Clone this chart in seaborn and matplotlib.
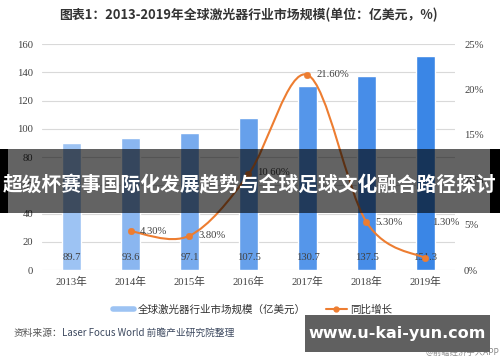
import numpy as np
import pandas as pd
import seaborn as sns
import matplotlib.pyplot as plt
from matplotlib.path import Path
from matplotlib.patches import PathPatch, Rectangle
from matplotlib.lines import Line2D

# data
years = ['2013年', '2014年', '2015年', '2016年', '2017年', '2018年', '2019年']
market = [89.7, 93.6, 97.1, 107.5, 130.7, 137.5, 151.3]
growth = [4.3, 3.8, 10.6, 21.6, 5.3, 1.3]          # 2014-2019, %
left_ticks = [0, 20, 40, 60, 80, 100, 120, 140, 160]
right_ticks = [0, 5, 10, 15, 20, 25]

bar_colors = ['#9dc3f3', '#8ab6f0', '#78abee', '#66a0eb', '#5596ea', '#478de8', '#3a86e6']
orange = '#ed7d31'
txt = '#404040'
serif = ['Liberation Serif', 'Noto Sans CJK SC']
sans = ['Noto Sans CJK SC', 'DejaVu Sans']

sns.set_style("white")
plt.rcParams['font.family'] = sans

df = pd.DataFrame({'年份': years, '规模': market})

fig = plt.figure(figsize=(5, 3.62), dpi=100)
ax = fig.add_axes([0.084, 0.254, 0.826, 0.624])
sns.barplot(data=df, x='年份', y='规模', hue='年份', palette=bar_colors,
            saturation=1, width=0.31, legend=False, ax=ax, zorder=2)
ax.set_xlim(-0.5, 6.5)
ax.set_ylim(0, 160)
ax.set_yticks(left_ticks)
ax.set_xlabel('')
ax.set_ylabel('')
ax.grid(axis='y', color='#d9d9d9', lw=0.8, zorder=0)
ax.set_axisbelow(True)
for s in ax.spines.values():
    s.set_visible(False)
ax.tick_params(length=0, labelcolor=txt)
ax.tick_params(axis='y', pad=6.5)
ax.tick_params(axis='x', pad=5)
for lab in ax.get_xticklabels() + ax.get_yticklabels():
    lab.set_family(serif)
    lab.set_fontsize(7.7)

# values inside the bars
for i, v in enumerate(market):
    ax.text(i, 9, '%.1f' % v, ha='center', va='center', fontsize=7.7,
            family=serif, color=txt, zorder=3)

# growth line on secondary axis
ax2 = ax.twinx()
ax2.set_ylim(0, 25)
ax2.set_yticks(right_ticks)
ax2.set_yticklabels(['%d%%' % t for t in right_ticks])
for s in ax2.spines.values():
    s.set_visible(False)
ax2.tick_params(length=0, labelcolor=txt, pad=6.5)
for lab in ax2.get_yticklabels():
    lab.set_family(serif)
    lab.set_fontsize(7.7)

gx = np.arange(1, len(years))
pts = np.column_stack([gx, growth]).astype(float)
# smoothed line (catmull-rom through the points, as in the original)
verts = [pts[0]]
codes = [Path.MOVETO]
n = len(pts)
for i in range(n - 1):
    p0 = pts[max(i - 1, 0)]
    p1 = pts[i]
    p2 = pts[i + 1]
    p3 = pts[min(i + 2, n - 1)]
    verts += [p1 + (p2 - p0) / 6, p2 - (p3 - p1) / 6, p2]
    codes += [Path.CURVE4] * 3
ax2.add_patch(PathPatch(Path(verts, codes), fill=False, ec=orange, lw=1.5, zorder=4))
sns.scatterplot(x=gx, y=growth, ax=ax2, color=orange, s=22, edgecolor=orange,
                legend=False, zorder=5)

offsets = [(9, 0), (9, 0), (9, 2), (9, 0), (9, 0), (7, 36)]
for x, g, off in zip(gx, growth, offsets):
    ax2.annotate('%.2f%%' % g, (x, g), xytext=off, textcoords='offset pixels',
                 ha='left', va='center', fontsize=7.7, family=serif, color=txt, zorder=6)

# title
fig.text(0.496, 0.959, '图表1：2013-2019年全球激光器行业市场规模(单位：亿美元，%)',
         ha='center', va='center', fontsize=9.3, fontweight='bold', color='#333333')

# legend
handles = [Line2D([], [], color=bar_colors[0], lw=4),
           Line2D([], [], color=orange, lw=1.5, marker='o', ms=3.5)]
fig.legend(handles, ['全球激光器行业市场规模（亿美元）', '同比增长'], loc='center',
           bbox_to_anchor=(0.505, 0.144), ncol=2, frameon=False, fontsize=7.6,
           handlelength=2.0, handletextpad=0.3, columnspacing=1.9, labelcolor='#333333')

# source note
fig.text(0.028, 0.08, '资料来源：', ha='left', va='center', fontsize=7, color='#555555')
fig.text(0.125, 0.08, 'Laser Focus World 前瞻产业研究院整理', ha='left', va='center',
         fontsize=7, color='#3e4a60')
fig.text(0.998, 0.027, '@前瞻经济学人APP', ha='right', va='center', fontsize=6,
         color='#8a8a8a')

# overlay banner across the middle
fig.patches.append(Rectangle((0, 0.4116), 1, 0.1768, transform=fig.transFigure,
                             color='black', alpha=0.61, zorder=10, lw=0))
fig.patches.append(Rectangle((0, 0.4116), 0.016, 0.1768, transform=fig.transFigure,
                             color='black', zorder=10, lw=0))
fig.patches.append(Rectangle((0.98, 0.4116), 0.02, 0.1768, transform=fig.transFigure,
                             color='black', zorder=10, lw=0))
fig.text(0.5, 0.489, '超级杯赛事国际化发展趋势与全球足球文化融合路径探讨', ha='center',
         va='center', fontsize=14.2, fontweight='bold', color='white', zorder=11)

# site box bottom right
fig.patches.append(Rectangle((0.61, 0.0276), 0.37, 0.1024, transform=fig.transFigure,
                             color='#606060', zorder=10, lw=0))
fig.text(0.795, 0.08, 'www.u-kai-yun.com', ha='center', va='center', fontsize=11.5,
         fontweight='bold', color='white', family=['DejaVu Sans'], zorder=11)

plt.savefig('out.png', dpi=100)
